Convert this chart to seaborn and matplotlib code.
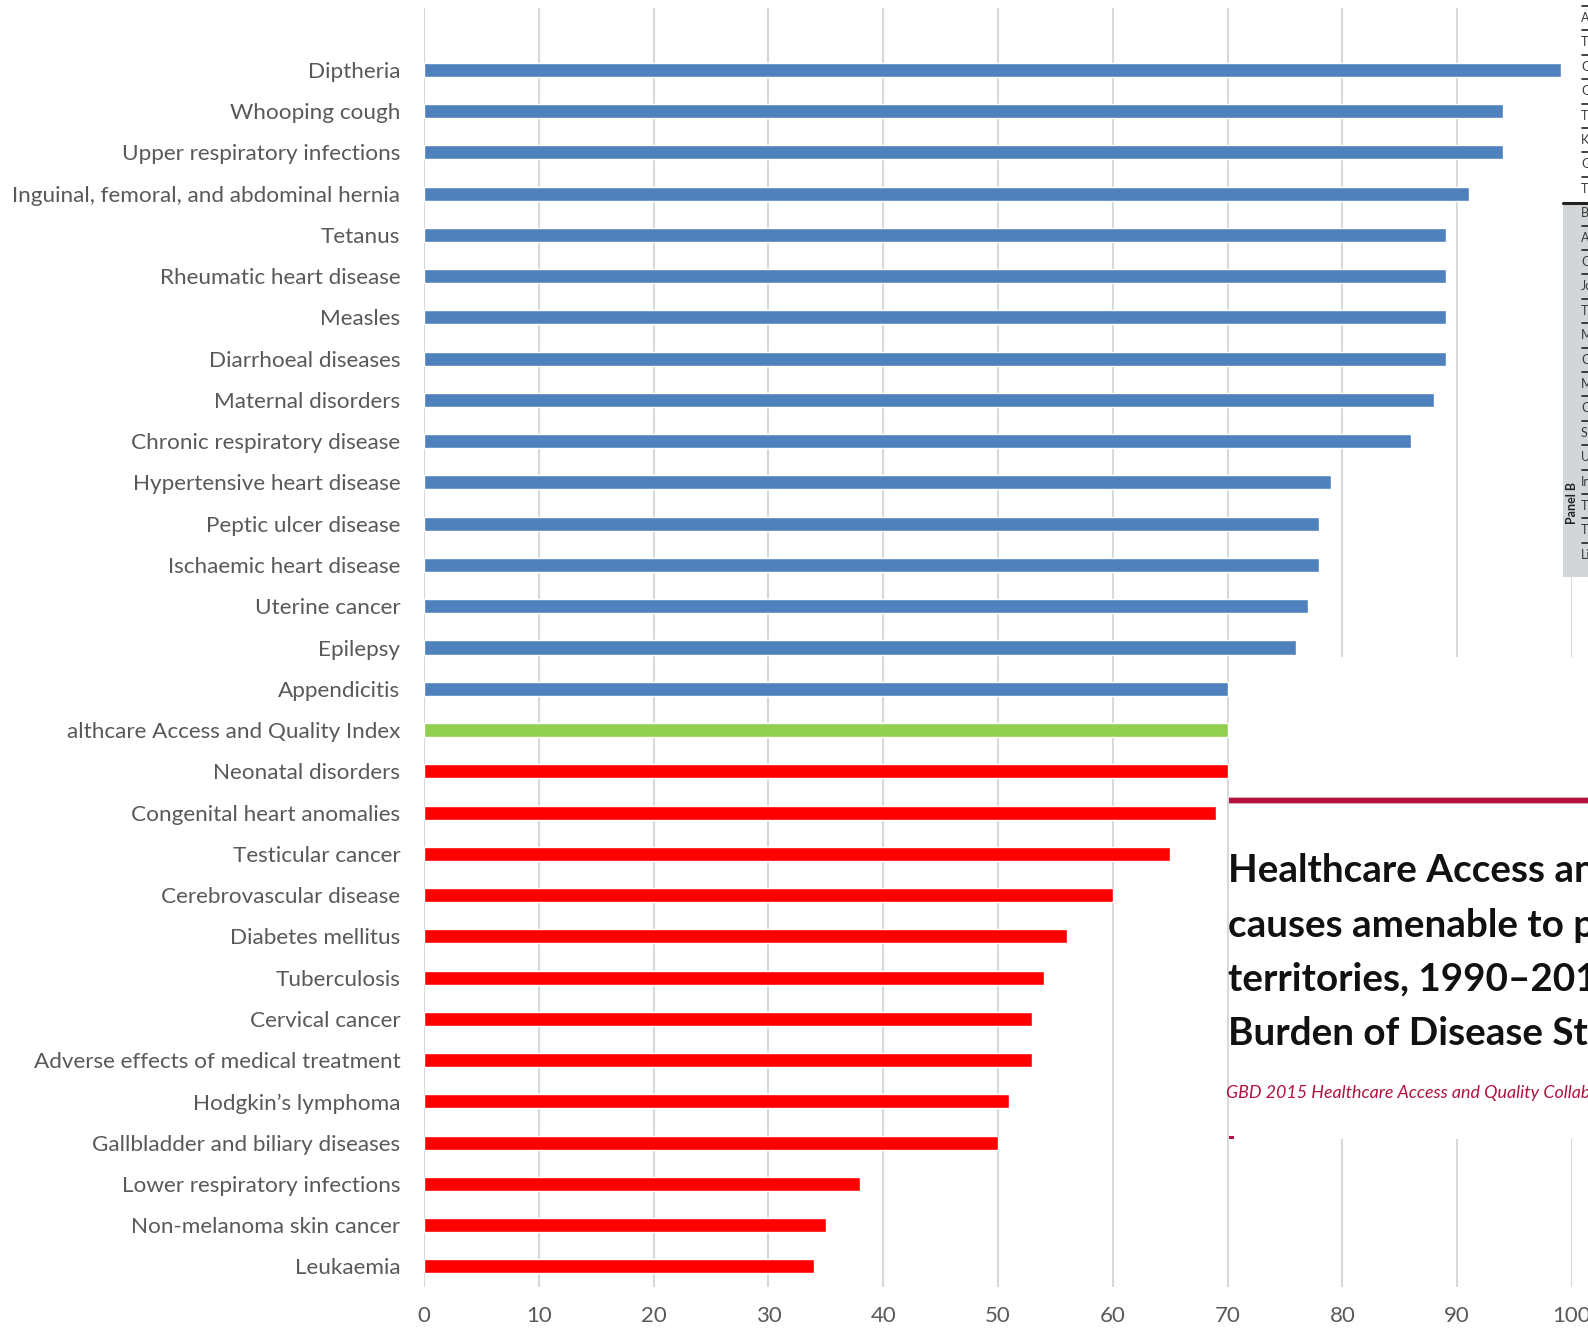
import matplotlib
matplotlib.use("Agg")
import matplotlib.pyplot as plt
import seaborn as sns
import pandas as pd
from matplotlib.patches import Rectangle
from matplotlib.lines import Line2D

# Causes amenable to health care, ordered by score
causes = [
    "Diptheria", "Whooping cough", "Upper respiratory infections",
    "Inguinal, femoral, and abdominal hernia", "Tetanus",
    "Rheumatic heart disease", "Measles", "Diarrhoeal diseases",
    "Maternal disorders", "Chronic respiratory disease",
    "Hypertensive heart disease", "Peptic ulcer disease",
    "Ischaemic heart disease", "Uterine cancer", "Epilepsy", "Appendicitis",
    "althcare Access and Quality Index",
    "Neonatal disorders", "Congenital heart anomalies", "Testicular cancer",
    "Cerebrovascular disease", "Diabetes mellitus", "Tuberculosis",
    "Cervical cancer", "Adverse effects of medical treatment",
    "Hodgkin\u2019s lymphoma", "Gallbladder and biliary diseases",
    "Lower respiratory infections", "Non-melanoma skin cancer", "Leukaemia",
]
scores = [99, 94, 94, 91, 89, 89, 89, 89, 88, 86, 79, 78, 78, 77, 76, 70,
          70,
          70, 69, 65, 60, 56, 54, 53, 53, 51, 50, 38, 35, 34]
groups = ["above"] * 16 + ["index"] + ["below"] * 13
x_ticks = [0, 10, 20, 30, 40, 50, 60, 70, 80, 90, 100]

palette = {"above": "#4f81bd", "index": "#92d050", "below": "#ff0000"}

sns.set_theme(style="white")
plt.rcParams["font.family"] = ["Lato", "DejaVu Sans"]

W, H = 1588, 1330
fig = plt.figure(figsize=(W / 100, H / 100), dpi=100)
fig.patch.set_facecolor("white")


def fx(px):
    return px / W


def fy(py):
    return 1 - py / H


ax = fig.add_axes([fx(424), fy(1287), 1148 / W, 1279 / H])

df = pd.DataFrame({"cause": causes, "score": scores, "group": groups})
sns.barplot(data=df, x="score", y="cause", hue="group", palette=palette,
            dodge=False, width=0.34, saturation=1, legend=False, ax=ax,
            zorder=3)

ax.set_xlim(0, 100)
ax.set_ylim(29.5, -1.5)
ax.set_xticks(x_ticks)
ax.set_xticklabels([str(t) for t in x_ticks])
ax.set_xlabel("")
ax.set_ylabel("")
ax.set_axisbelow(True)
ax.xaxis.grid(True, color="#d9d9d9", linewidth=1.5)
ax.yaxis.grid(False)
for s in ax.spines.values():
    s.set_visible(False)
ax.tick_params(axis="y", length=0, pad=17, labelsize=16.2, labelcolor="#595959")
ax.tick_params(axis="x", length=0, pad=14, labelsize=16, labelcolor="#595959")

# Article header pasted over the lower right of the chart
fig.add_artist(Rectangle((fx(1229), fy(1139)), (W - 1229) / W, (1139 - 657) / H,
                         transform=fig.transFigure, facecolor="white",
                         edgecolor="none", zorder=10))
fig.add_artist(Rectangle((fx(1229), fy(804)), (W - 1229) / W, 7 / H,
                         transform=fig.transFigure, facecolor="#e6a9bb",
                         edgecolor="none", zorder=11))
fig.add_artist(Rectangle((fx(1229), fy(803)), (W - 1229) / W, 5 / H,
                         transform=fig.transFigure, facecolor="#b3123f",
                         edgecolor="none", zorder=12))
title_lines = [
    "Healthcare Access and Quality Index based on mortality from",
    "causes amenable to personal health care in 195 countries and",
    "territories, 1990\u20132015: a novel analysis from the Global",
    "Burden of Disease Study 2015",
]
for i, line in enumerate(title_lines):
    fig.text(fx(1228), fy(871 + 54.3 * i), line, fontsize=27.8,
             fontweight="bold", color="#111111", ha="left", va="center",
             zorder=13)
fig.text(fx(1226), fy(1093), "GBD 2015 Healthcare Access and Quality Collaborators*",
         fontsize=12.9, fontstyle="italic", color="#b3123f", ha="left",
         va="center", zorder=13)
fig.add_artist(Rectangle((fx(1229), fy(1139)), 5 / W, 3 / H,
                         transform=fig.transFigure, facecolor="#b3123f",
                         edgecolor="none", zorder=13))

# Table strip along the top right edge
fig.add_artist(Rectangle((fx(1563), fy(203)), (W - 1563) / W, 203 / H,
                         transform=fig.transFigure, facecolor="white",
                         edgecolor="none", zorder=10))
fig.add_artist(Rectangle((fx(1563), fy(577)), (W - 1563) / W, (577 - 203) / H,
                         transform=fig.transFigure, facecolor="#d2d6d9",
                         edgecolor="none", zorder=10))
fig.add_artist(Line2D([fx(1563), 1], [fy(203), fy(203)],
                      transform=fig.transFigure, color="#222222",
                      linewidth=2.2, zorder=12))
row_labels = ["A", "T", "G", "G", "T", "K", "G", "T", "B", "A", "O", "Jo", "T",
              "M", "C", "M", "C", "S", "U", "In", "T", "T", "Li"]
for i, lab in enumerate(row_labels):
    yc = 18 + 24.4 * i
    fig.text(fx(1581), fy(yc), lab, fontsize=9, color="#3a3a3a",
             ha="left", va="center", zorder=13)
    if i not in (0, 8):
        fig.add_artist(Line2D([fx(1582), fx(1588)], [fy(yc - 12), fy(yc - 12)],
                              transform=fig.transFigure, color="#222222",
                              linewidth=1.2, zorder=13))
fig.add_artist(Line2D([fx(1582), fx(1588)], [fy(6), fy(6)],
                      transform=fig.transFigure, color="#222222",
                      linewidth=1.2, zorder=13))
fig.text(fx(1572), fy(503), "Panel B", fontsize=9, fontweight="bold",
         color="#222222", rotation=90, ha="center", va="center", zorder=13)

fig.savefig("out.png", dpi=100, facecolor="white")
